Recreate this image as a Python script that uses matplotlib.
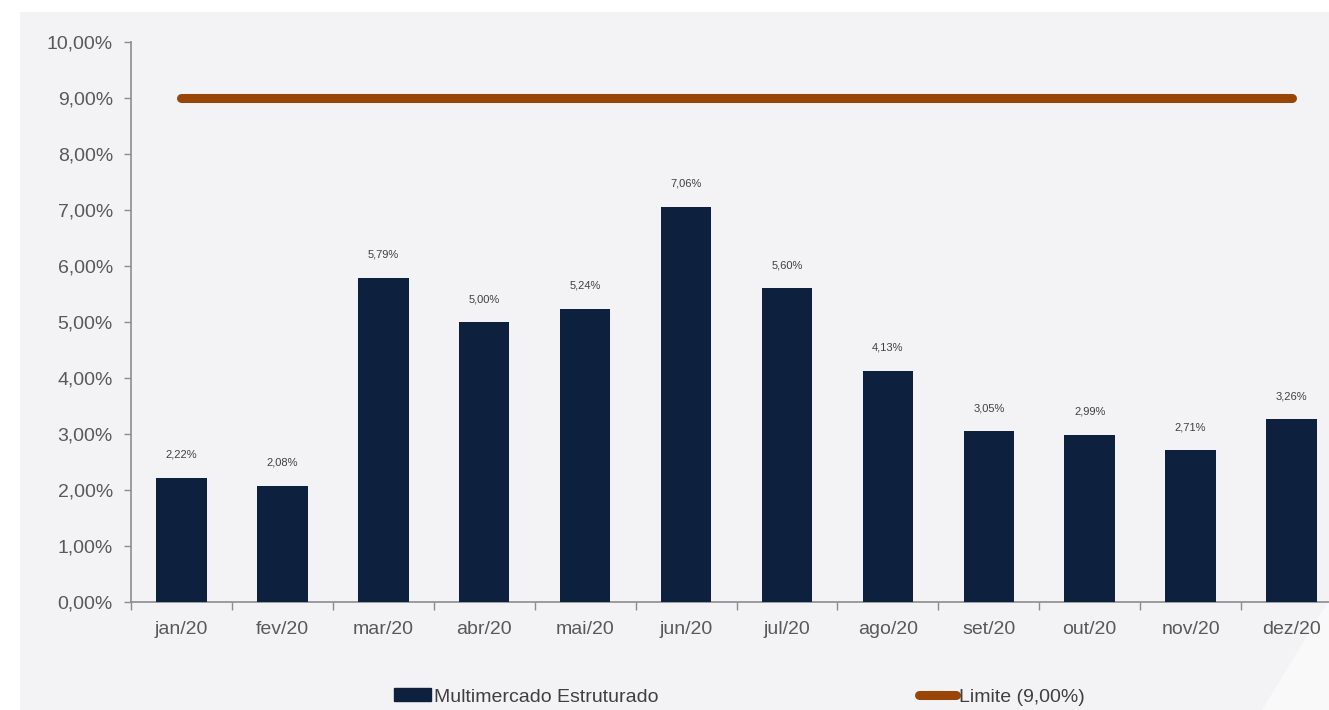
import matplotlib
matplotlib.use("Agg")
import matplotlib.pyplot as plt
from matplotlib.patches import Rectangle, Polygon
from matplotlib.lines import Line2D
from matplotlib.ticker import FuncFormatter, FixedLocator
import numpy as np

months = ["jan/20", "fev/20", "mar/20", "abr/20", "mai/20", "jun/20",
          "jul/20", "ago/20", "set/20", "out/20", "nov/20", "dez/20"]
values = [2.22, 2.08, 5.79, 5.00, 5.24, 7.06, 5.60, 4.13, 3.05, 2.99, 2.71, 3.26]
limit = 9.00
series_name = "Multimercado Estruturado"
limit_name = "Limite (9,00%)"

plt.rcParams["font.family"] = ["Liberation Sans", "DejaVu Sans"]

BAR = "#0d213f"
LIM = "#9a4508"
TXT = "#595959"
AX = "#8c8c8c"

fig = plt.figure(figsize=(13.29, 7.10), dpi=100, facecolor="white")

# slide background panel
bg = fig.add_axes([0, 0, 1, 1], zorder=-10)
bg.set_xlim(0, 1329)
bg.set_ylim(710, 0)
bg.axis("off")
bg.add_patch(Rectangle((20, 12), 1309, 698, color="#f3f3f5", lw=0))
bg.add_patch(Polygon([[1262, 710], [1329, 600], [1329, 710]], closed=True,
                     color="#f9f9fa", lw=0))

ax = fig.add_axes([131 / 1329, 1 - 602 / 710, 1211 / 1329, (602 - 42) / 710])
ax.set_facecolor("none")

x = np.arange(len(months))
ax.bar(x, values, width=0.5, color=BAR, zorder=3)
ax.plot([x[0], x[-1]], [limit, limit], color=LIM, lw=6.5,
        solid_capstyle="round", zorder=4)

for xi, v in zip(x, values):
    ax.text(xi, v + 0.32, f"{v:.2f}%".replace(".", ","), ha="center", va="bottom",
            fontsize=8, color="#404040")

ax.set_xlim(-0.5, len(months) - 0.5)
ax.set_ylim(0, 10)
ax.set_yticks(np.arange(0, 11, 1))
ax.yaxis.set_major_formatter(FuncFormatter(lambda v, p: f"{v:.2f}%".replace(".", ",")))
ax.set_xticks(x)
ax.set_xticklabels(months)
ax.xaxis.set_minor_locator(FixedLocator(np.arange(-0.5, len(months), 1.0)))
ax.tick_params(axis="x", which="major", length=0, pad=14, labelsize=14, labelcolor=TXT)
ax.tick_params(axis="x", which="minor", length=6, width=1, color=AX, direction="out")
ax.tick_params(axis="y", length=5, width=1, color=AX, pad=8, labelsize=14, labelcolor=TXT)

for s in ("top", "right"):
    ax.spines[s].set_visible(False)
for s in ("left", "bottom"):
    ax.spines[s].set_color(AX)
    ax.spines[s].set_linewidth(1.2)

handles = [Rectangle((0, 0), 1, 1, color=BAR),
           Line2D([0], [0], color=LIM, lw=6.5, solid_capstyle="round")]
fig.legend(handles, [series_name, limit_name], ncol=2, loc="center",
           bbox_to_anchor=(739 / 1329, 13 / 710), frameon=False,
           fontsize=14, labelcolor="#404040", handlelength=1.9, handleheight=0.65,
           handletextpad=0.15, columnspacing=13.4)

fig.savefig("out.png", dpi=100, facecolor="white")
